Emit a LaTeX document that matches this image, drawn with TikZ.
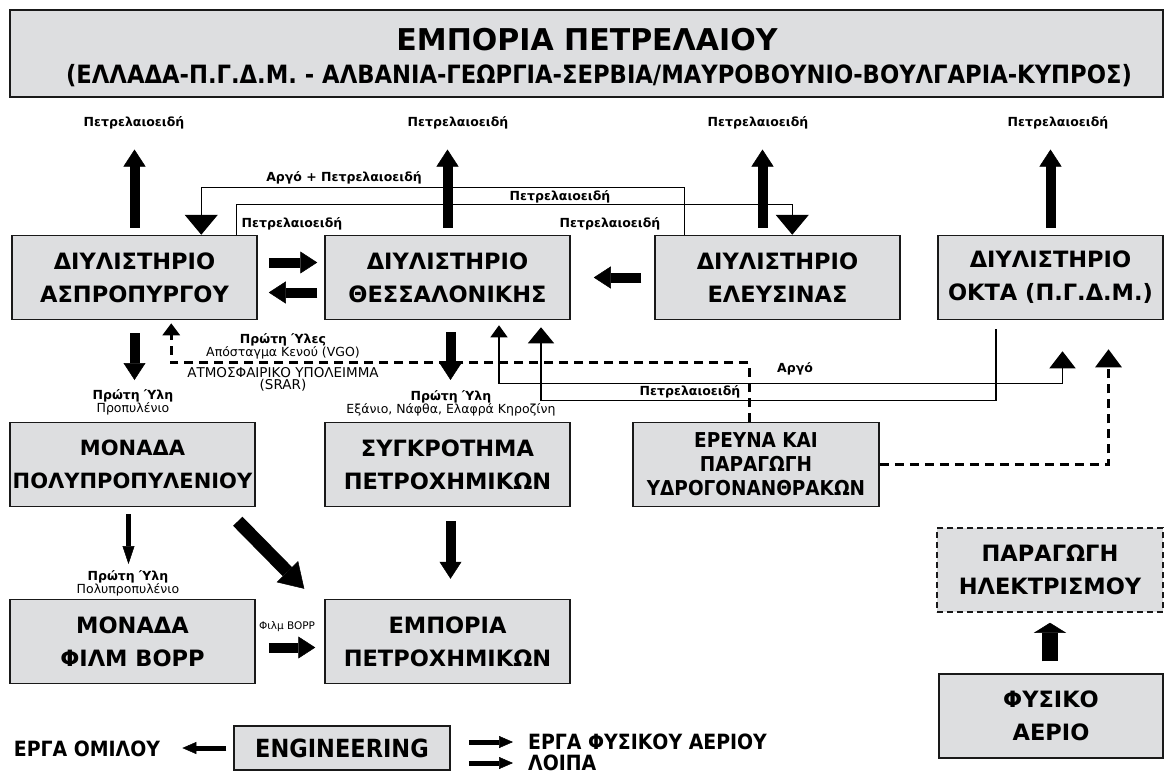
\documentclass[tikz,border=0pt]{standalone}
\usepackage{fontspec}
\setmainfont{DejaVu Sans}
\newfontfamily\condfont{DejaVu Sans Condensed}
\usepackage{xcolor}
\usetikzlibrary{
    arrows.meta,
    shapes,
    calc
}
\definecolor{boxgray}{RGB}{221,222,224}
\newcommand{\boxfont}{\fontsize{22.5}{33}\selectfont\bfseries}
\newcommand{\lblfont}{\fontsize{12.5}{13}\selectfont}
\tikzset{%
    % Specifications for style of nodes:
    plain/.style = {},
    base/.style = {
        plain,
        rectangle, draw=black!90, line width=1.5pt,
        text centered, font=\boxfont,
        fill=boxgray, align=center, inner sep=0pt
    },
    unit/.style = {base, minimum width=245pt, minimum height=84pt},
    plan/.style = {unit, dash pattern=on 6pt off 4pt},
    lbl/.style = {plain, font=\lblfont, align=center, inner sep=0pt},
    lblb/.style = {lbl, font=\lblfont\bfseries},
    cond/.style = {plain, font=\condfont\bfseries\fontsize{21}{24}\selectfont, inner sep=0pt},
    % arrows
    fat/.style = {line width=10pt, -{Triangle[width=22pt,length=17pt,line width=0.5pt]}},
    fatter/.style = {line width=13pt, -{Triangle[width=30pt,length=24pt,line width=0.5pt]}},
    slim/.style = {line width=5pt, -{Triangle[width=12pt,length=18pt,line width=0.5pt]}},
    stub/.style = {line width=16pt, -{Triangle[width=32pt,length=10pt,line width=0.5pt]}},
    conn/.style = {line width=1.2pt},
    dashconn/.style = {line width=3pt, dash pattern=on 9pt off 6pt}
}

\begin{document}
\begin{tikzpicture}[x=1pt, y=-1pt]
    \useasboundingbox (0,0) rectangle (1173,777);

    % title
    \node[base, minimum width=1153pt, minimum height=87pt] (title) at (586.5,53.5) {};
    \node[plain, inner sep=0pt, font=\fontsize{30}{30}\selectfont\bfseries] (titletop) at (587,40)
        {ΕΜΠΟΡΙΑ ΠΕΤΡΕΛΑΙΟΥ};
    \node[plain, inner sep=0pt, font=\condfont\bfseries\fontsize{25.2}{25}\selectfont] (titlebot) at (599,76)
        {(ΕΛΛΑΔΑ-Π.Γ.Δ.Μ. - ΑΛΒΑΝΙΑ-ΓΕΩΡΓΙΑ-ΣΕΡΒΙΑ/ΜΑΥΡΟΒΟΥΝΙΟ-ΒΟΥΛΓΑΡΙΑ-ΚΥΠΡΟΣ)};

    % refineries
    \node[unit] (aspro) at (134.5,277.5) {ΔΙΥΛΙΣΤΗΡΙΟ\\ΑΣΠΡΟΠΥΡΓΟΥ};
    \node[unit] (thess) at (447.5,277.5) {ΔΙΥΛΙΣΤΗΡΙΟ\\ΘΕΣΣΑΛΟΝΙΚΗΣ};
    \node[unit] (elef) at (777.5,277.5) {ΔΙΥΛΙΣΤΗΡΙΟ\\ΕΛΕΥΣΙΝΑΣ};
    \node[unit, minimum width=225pt] (okta) at (1050.5,277.5) {ΔΙΥΛΙΣΤΗΡΙΟ\\ΟΚΤΑ (Π.Γ.Δ.Μ.)};

    % second and third rows
    \node[unit, font=\fontsize{21}{33}\selectfont\bfseries] (polyprop) at (132.5,464.5) {ΜΟΝΑΔΑ\\ΠΟΛΥΠΡΟΠΥΛΕΝΙΟΥ};
    \node[unit] (sygkr) at (447.5,464.5) {ΣΥΓΚΡΟΤΗΜΑ\\ΠΕΤΡΟΧΗΜΙΚΩΝ};
    \node[unit, minimum width=246pt, font=\condfont\bfseries\fontsize{20.5}{24}\selectfont]
        (erevna) at (756,464.5) {ΕΡΕΥΝΑ ΚΑΙ\\ΠΑΡΑΓΩΓΗ\\ΥΔΡΟΓΟΝΑΝΘΡΑΚΩΝ};
    \node[unit] (film) at (132.5,641.5) {ΜΟΝΑΔΑ\\ΦΙΛΜ BOPP};
    \node[unit] (emporia) at (447.5,641.5) {ΕΜΠΟΡΙΑ\\ΠΕΤΡΟΧΗΜΙΚΩΝ};
    \node[plan, minimum width=226pt] (ilektr) at (1050,570) {ΠΑΡΑΓΩΓΗ\\ΗΛΕΚΤΡΙΣΜΟΥ};
    \node[unit, minimum width=224pt] (fysiko) at (1051,716) {ΦΥΣΙΚΟ\\ΑΕΡΙΟ};
    \node[base, minimum width=216pt, minimum height=44pt,
          font=\condfont\bfseries\fontsize{25}{25}\selectfont] (eng) at (342,748) {ENGINEERING};

    % labels
    \node[lblb] (pA) at (134,123) {Πετρελαιοειδή};
    \node[lblb] (pT) at (458,123) {Πετρελαιοειδή};
    \node[lblb] (pE) at (758,123) {Πετρελαιοειδή};
    \node[lblb] (pO) at (1058,123) {Πετρελαιοειδή};
    \node[lblb] (argopetr) at (344,178) {Αργό + Πετρελαιοειδή};
    \node[lblb] (pAr) at (292,224) {Πετρελαιοειδή};
    \node[lblb] (pMid) at (560,197) {Πετρελαιοειδή};
    \node[lblb] (pEl) at (610,224) {Πετρελαιοειδή};
    \node[lbl] (rA) at (133,402) {\textbf{Πρώτη Ύλη}\\Προπυλένιο};
    \node[lbl] (rT) at (451,403) {\textbf{Πρώτη Ύλη}\\Εξάνιο, Νάφθα, Ελαφρά Κηροζίνη};
    \node[lbl] (vgo) at (283,346) {\textbf{Πρώτη Ύλες}\\Απόσταγμα Κενού (VGO)};
    \node[lbl, font=\fontsize{13.5}{12}\selectfont] (srar) at (283,379) {ΑΤΜΟΣΦΑΙΡΙΚΟ ΥΠΟΛΕΙΜΜΑ\\(SRAR)};
    \node[lblb] (argo) at (795,369) {Αργό};
    \node[lblb] (petrok) at (690,392) {Πετρελαιοειδή};
    \node[lbl] (rP) at (128,583) {\textbf{Πρώτη Ύλη}\\Πολυπροπυλένιο};
    \node[lbl, font=\fontsize{10.5}{11}\selectfont] (filmlbl) at (287,627) {Φιλμ BOPP};
    \node[cond] (ergaom) at (87,749) {ΕΡΓΑ ΟΜΙΛΟΥ};
    \node[cond, anchor=west] (ergafa) at (528,742) {ΕΡΓΑ ΦΥΣΙΚΟΥ ΑΕΡΙΟΥ};
    \node[cond, anchor=west] (loipa) at (528,763) {ΛΟΙΠΑ};

    % thin flows between refineries
    \draw[conn, -{Triangle[width=33pt,length=20pt]}]
        ([xshift=30pt]elef.north west) -- ++(0,-47) -| ([xshift=190pt]aspro.north west);
    \draw[conn, -{Triangle[width=33pt,length=20pt]}]
        ([xshift=225pt]aspro.north west) -- ++(0,-30) -| ([xshift=138pt]elef.north west);
    \draw[dashconn, -{Triangle[width=17pt,length=12pt]}]
        ([xshift=117pt]erevna.north west) -- ++(0,-59) -| ([xshift=160pt,yshift=-3pt]aspro.south west);
    \draw[dashconn, -{Triangle[width=26pt,length=18pt]}]
        (erevna.east) -| ([xshift=58pt,yshift=-29pt]okta.south);
    \draw[conn, {Triangle[width=17pt,length=12pt]}-{Triangle[width=26pt,length=17pt]}]
        ([xshift=51.5pt,yshift=-5pt]thess.south) -- ++(0,58) -| ([xshift=12pt,yshift=-31pt]okta.south);
    \draw[conn, -{Triangle[width=26pt,length=16pt]}]
        ([xshift=-54.5pt,yshift=-9pt]okta.south) -- ++(0,71) -| ([xshift=93.5pt,yshift=-7pt]thess.south);

    % block arrows
    \draw[fat, shorten <=7pt, shorten >=20pt] (aspro.north) -- (aspro.north |- pA.south);
    \draw[fat, shorten <=7pt, shorten >=20pt] (thess.north) -- (thess.north |- pT.south);
    \draw[fat, shorten <=7pt, shorten >=20pt] ([xshift=-15pt]elef.north) -- ([xshift=-15pt]elef.north |- pE.south);
    \draw[fat, shorten <=7pt, shorten >=20pt] (okta.north) -- (okta.north |- pO.south);
    \draw[fat] ([xshift=11pt,yshift=15pt]aspro.east) -- ([xshift=-7pt,yshift=15pt]thess.west);
    \draw[fat] ([xshift=-7pt,yshift=-15pt]thess.west) -- ([xshift=11pt,yshift=-15pt]aspro.east);
    \draw[fat] ([xshift=-13pt]elef.west) -- ([xshift=23pt]thess.east);
    \draw[fat, shorten <=13pt, shorten >=9pt] (aspro.south) -- (aspro.south |- rA.north);
    \draw[fat, shorten <=12pt, shorten >=10pt] ([xshift=3pt]thess.south) -- ([xshift=3pt]thess.south |- rT.north);
    \draw[slim, shorten <=7pt, shorten >=6pt] ([xshift=-4pt]polyprop.south) -- ([xshift=-4pt]polyprop.south |- rP.north);
    \draw[fatter] ([xshift=-18pt,yshift=-14pt]polyprop.south east) -- ([xshift=-20pt,yshift=10pt]emporia.north west);
    \draw[fat, shorten <=14pt, shorten >=20pt] ([xshift=3pt]sygkr.south) -- ([xshift=3pt]emporia.north);
    \draw[fat] ([xshift=13pt,yshift=-6pt]film.east) -- ([xshift=-9pt,yshift=-6pt]emporia.west);
    \draw[stub, shorten <=12pt, shorten >=10pt] ([xshift=-1pt]fysiko.north) -- (ilektr.south);
    \draw[slim, -{Triangle[width=12pt,length=14pt,line width=0.5pt]}, shorten <=7pt, shorten >=22pt]
        (eng.west) -- (eng.west -| ergaom.east);
    \draw[slim, -{Triangle[width=12pt,length=14pt,line width=0.5pt]}, shorten <=18pt, shorten >=15pt]
        (eng.east |- ergafa.west) -- (ergafa.west);
    \draw[slim, -{Triangle[width=12pt,length=14pt,line width=0.5pt]}, shorten <=18pt, shorten >=15pt]
        (eng.east |- loipa.west) -- (loipa.west);
\end{tikzpicture}
\end{document}
